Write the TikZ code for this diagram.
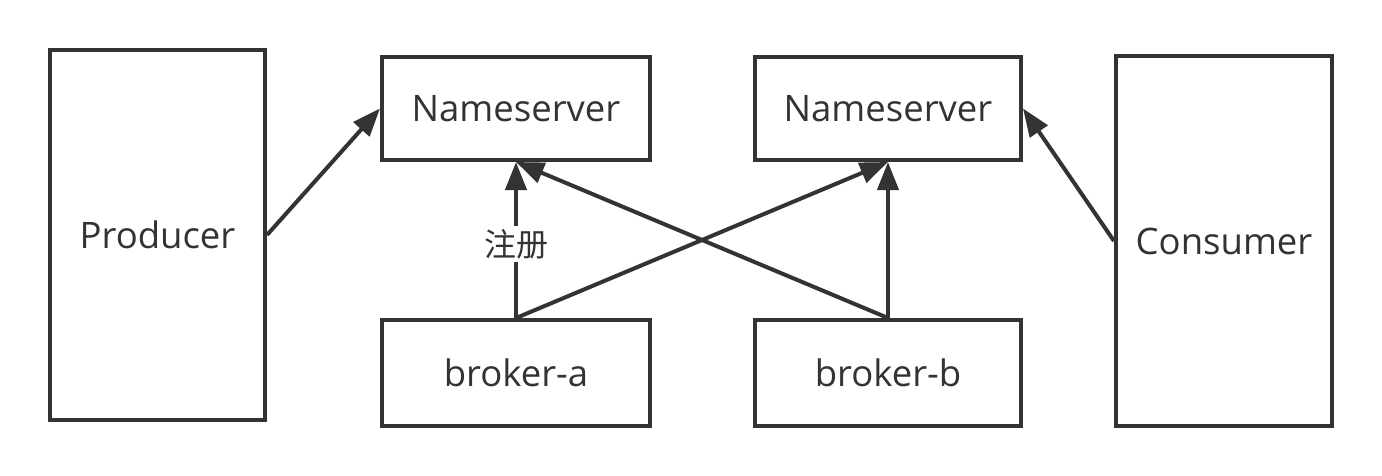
\documentclass[tikz,border=0pt]{standalone}
\usepackage{fontspec}
\setmainfont{Open Sans}
\newfontfamily\cjk{Noto Sans CJK SC}
\usetikzlibrary{arrows.meta}
\definecolor{ink}{HTML}{333333}
\begin{document}
\begin{tikzpicture}[x=1pt,y=-1pt,
  box/.style={draw=ink,line width=4pt,inner sep=0pt,text=ink,
    font=\fontsize{36.5}{42}\selectfont},
  conn/.style={draw=ink,line width=4pt,-{Triangle[length=28pt,width=21pt]}},
  lbl/.style={fill=white,text=ink,inner sep=3pt,font=\cjk\fontsize{32}{38}\selectfont}]
\useasboundingbox[fill=white] (0,0) rectangle (1382,476);
\node[box,minimum width=215pt,minimum height=370pt] (prod) at (157.5,235) {Producer};
\node[box,minimum width=268pt,minimum height=103pt] (ns1) at (516,108.5) {Nameserver};
\node[box,minimum width=266pt,minimum height=103pt] (ns2) at (888,108.5) {Nameserver};
\node[box,minimum width=268pt,minimum height=106pt] (ba) at (516,373) {broker-a};
\node[box,minimum width=266pt,minimum height=106pt] (bb) at (888,373) {broker-b};
\node[box,minimum width=216pt,minimum height=370pt] (cons) at (1224,241) {Consumer};
\draw[conn] (prod.east) -- (ns1.west);
\draw[conn] (cons.west) -- (ns2.east);
\draw[conn] (ba.north) -- (ns1.south);
\draw[conn] (ba.north) -- (ns2.south);
\draw[conn] (bb.north) -- (ns1.south);
\draw[conn] (bb.north) -- (ns2.south);
\node[lbl] (reg) at (516,244) {注册};
\end{tikzpicture}
\end{document}
